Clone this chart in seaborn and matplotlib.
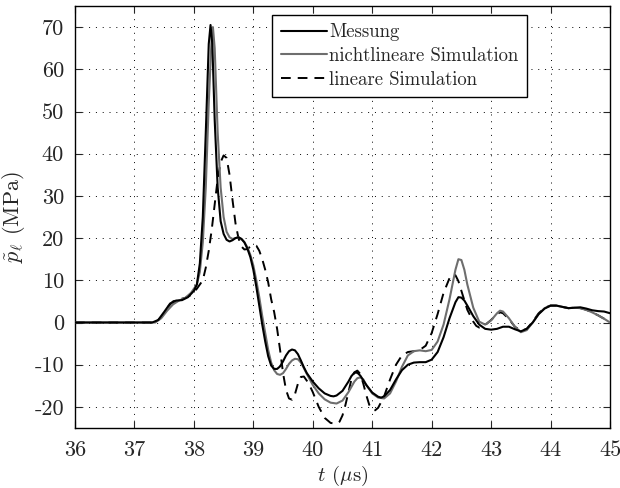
import matplotlib
matplotlib.use("Agg")
import matplotlib.pyplot as plt
import seaborn as sns
import pandas as pd

# Measured pressure pulse
t_mess = [36.0, 36.5, 37.0, 37.3, 37.4, 37.5, 37.6, 37.7, 37.8, 37.9, 38.0, 38.05, 38.1, 38.15,
          38.2, 38.25, 38.28, 38.31, 38.35, 38.4, 38.45, 38.5, 38.55, 38.6, 38.65, 38.7, 38.75,
          38.8, 38.85, 38.9, 38.95, 39.0, 39.05, 39.1, 39.15, 39.2, 39.25, 39.3, 39.35, 39.4,
          39.45, 39.5, 39.55, 39.6, 39.65, 39.7, 39.75, 39.8, 39.85, 39.9, 40.0, 40.1, 40.2,
          40.3, 40.35, 40.4, 40.5, 40.6, 40.65, 40.7, 40.75, 40.8, 40.9, 41.0, 41.1, 41.15,
          41.2, 41.3, 41.4, 41.5, 41.6, 41.7, 41.8, 41.9, 42.0, 42.1, 42.2, 42.3, 42.4, 42.45,
          42.5, 42.55, 42.6, 42.7, 42.8, 42.9, 43.0, 43.1, 43.2, 43.3, 43.4, 43.5, 43.6, 43.7,
          43.8, 43.9, 44.0, 44.1, 44.2, 44.3, 44.4, 44.5, 44.6, 44.7, 44.8, 44.9, 45.0]
p_mess = [0, 0, 0, 0, 0.6, 2.5, 4.5, 5.2, 5.3, 6.0, 7.5, 9, 14, 25,
          45, 66, 70.5, 66, 48, 32, 24, 21, 19.6, 19.2, 19.5, 20.0, 20.2,
          19.8, 19, 17.5, 15.5, 12.5, 8.5, 4, -0.5, -4.5, -8, -10.2, -11, -11.0,
          -10.4, -9.2, -7.8, -6.8, -6.4, -6.6, -7.5, -9, -10.6, -12, -14, -15.6, -16.8,
          -17.4, -17.5, -17.3, -16.2, -14, -12.7, -11.9, -11.9, -12.6, -14.8, -16.6, -17.6, -17.8,
          -17.5, -16, -13.5, -11.3, -10, -9.5, -9.4, -9.4, -8.8, -7, -3.5, 1, 4.8, 6,
          5.9, 5.2, 4, 1.5, -0.5, -1.5, -1.7, -1.5, -1.0, -1.0, -1.6, -2.1, -1.5, 0,
          2, 3.3, 4, 4.0, 3.7, 3.4, 3.5, 3.6, 3.3, 2.9, 2.7, 2.6, 2.2]

# Nonlinear simulation
t_nl = [36.0, 37.0, 37.35, 37.45, 37.55, 37.65, 37.75, 37.85, 37.95, 38.05, 38.1, 38.15, 38.2,
        38.25, 38.3, 38.32, 38.35, 38.4, 38.45, 38.5, 38.55, 38.6, 38.65, 38.7, 38.75, 38.8,
        38.85, 38.9, 38.95, 39.0, 39.05, 39.1, 39.15, 39.2, 39.25, 39.3, 39.35, 39.4, 39.45,
        39.5, 39.55, 39.6, 39.65, 39.7, 39.75, 39.8, 39.85, 39.9, 40.0, 40.1, 40.2, 40.3,
        40.4, 40.5, 40.6, 40.7, 40.75, 40.8, 40.85, 40.9, 41.0, 41.1, 41.2, 41.3, 41.4, 41.5,
        41.6, 41.7, 41.8, 41.9, 42.0, 42.1, 42.2, 42.3, 42.4, 42.45, 42.5, 42.55, 42.6, 42.7,
        42.8, 42.9, 43.0, 43.1, 43.15, 43.2, 43.3, 43.4, 43.5, 43.6, 43.7, 43.8, 43.9, 44.0,
        44.1, 44.2, 44.3, 44.4, 44.5, 44.6, 44.7, 44.8, 44.9, 45.0]
p_nl = [0, 0, 0, 1, 2.8, 4.3, 5.2, 5.8, 7, 9, 12, 19, 32,
        52, 68, 70, 65, 45, 32, 25, 21.5, 20.2, 19.8, 20, 20.2, 19.8,
        19, 17.8, 16, 13.5, 10, 6, 1.5, -2.5, -6.5, -9.5, -11.3, -12.2, -12.4,
        -12, -11, -9.8, -9, -8.6, -8.7, -9.5, -10.8, -12.2, -14.8, -16.8, -18.2, -19,
        -19.2, -18.5, -16.5, -14, -13.2, -13, -13.5, -14.8, -16.8, -17.8, -18, -16.8, -14, -10.5,
        -7.8, -6.8, -6.6, -6.8, -6.5, -4.5, -0.5, 5.5, 12.5, 15, 14.8, 12.5, 9, 3.5,
        0.2, -0.5, 0.5, 2.2, 2.8, 2.6, 1, -1, -2.3, -1.8, 0, 2, 3.4, 4.0,
        4.0, 3.7, 3.4, 3.5, 3.4, 3.0, 2.4, 1.7, 0.9, 0]

# Linear simulation
t_lin = [36.0, 37.0, 37.35, 37.45, 37.55, 37.65, 37.75, 37.85, 37.95, 38.05, 38.15, 38.2, 38.25,
         38.3, 38.35, 38.4, 38.45, 38.5, 38.55, 38.6, 38.65, 38.7, 38.75, 38.8, 38.85, 38.9,
         38.95, 39.0, 39.05, 39.1, 39.15, 39.2, 39.25, 39.3, 39.35, 39.4, 39.45, 39.5, 39.55,
         39.6, 39.65, 39.7, 39.75, 39.8, 39.85, 39.9, 39.95, 40.0, 40.1, 40.2, 40.3, 40.4,
         40.45, 40.5, 40.55, 40.6, 40.65, 40.7, 40.75, 40.8, 40.85, 40.9, 40.95, 41.0, 41.05,
         41.1, 41.2, 41.3, 41.4, 41.5, 41.6, 41.7, 41.8, 41.9, 42.0, 42.1, 42.2, 42.3, 42.35,
         42.4, 42.45, 42.5, 42.6, 42.7, 42.75, 42.8, 42.9, 43.0, 43.1, 43.15, 43.2, 43.3, 43.4,
         43.5, 43.6, 43.7, 43.8, 43.9, 44.0, 44.1, 44.2, 44.3, 44.4, 44.5, 44.6, 44.7, 44.8,
         44.9, 45.0]
p_lin = [0, 0, 0, 1.2, 3.5, 5.0, 5.5, 5.8, 6.5, 8, 10, 13, 17,
         22, 28, 34, 38, 39.6, 39, 35, 29, 23.5, 20, 18, 17.3, 17.4,
         18, 18.4, 18.2, 17, 15, 12.5, 9.5, 5.5, 2.5, -1.5, -6.5, -12, -16,
         -18, -18.3, -17, -14.5, -12.9, -12.8, -13.8, -15, -16.5, -20, -22.6, -23.8, -24,
         -23.5, -22, -19.5, -16.5, -13.5, -11.8, -11.4, -12.2, -14.5, -17.2, -19.5, -20.6, -20.8,
         -20.2, -17.5, -13.5, -10, -7.8, -7, -6.8, -6.5, -5.5, -2.5, 2, 7, 10.5, 11.4,
         11.2, 9.8, 7.5, 3, 0.2, -0.8, -1.2, -0.6, 0.6, 2, 2.4, 2.2, 0.8, -1.0,
         -2.0, -1.5, 0.2, 2.2, 3.5, 4.0, 4.0, 3.7, 3.4, 3.5, 3.4, 3.0, 2.4, 1.7,
         0.9, 0.2]

labels = ["Messung", "nichtlineare Simulation", "lineare Simulation"]
x_ticks = [36, 37, 38, 39, 40, 41, 42, 43, 44, 45]
y_ticks = [-20, -10, 0, 10, 20, 30, 40, 50, 60, 70]

sns.set_style("ticks")
plt.rcParams.update({
    "font.family": "serif",
    "font.serif": ["cmr10", "DejaVu Serif"],
    "mathtext.fontset": "cm",
    "axes.unicode_minus": False,
    "axes.formatter.use_mathtext": False,
})

W, H = 620, 488
left, right, top, bottom = 75, 610, 6, 428
fig = plt.figure(figsize=(W / 100, H / 100), dpi=100)
ax = fig.add_axes([left / W, 1 - bottom / H, (right - left) / W, (bottom - top) / H])

df_mess = pd.DataFrame({"t": t_mess, "p": p_mess})
df_nl = pd.DataFrame({"t": t_nl, "p": p_nl})
df_lin = pd.DataFrame({"t": t_lin, "p": p_lin})

sns.lineplot(data=df_mess, x="t", y="p", ax=ax, color="black", lw=1.5,
             estimator=None, sort=False, label=labels[0], zorder=4)
sns.lineplot(data=df_nl, x="t", y="p", ax=ax, color="#6e6e6e", lw=1.5,
             estimator=None, sort=False, label=labels[1], zorder=3)
sns.lineplot(data=df_lin, x="t", y="p", ax=ax, color="black", lw=1.4,
             estimator=None, sort=False, label=labels[2], zorder=2)
ax.lines[2].set_dashes([5, 3.6])

ax.set_xlim(36, 45)
ax.set_ylim(-25, 75)
ax.set_xticks(x_ticks)
ax.set_yticks(y_ticks)
ax.set_xticklabels([str(v) for v in x_ticks])
ax.set_yticklabels([str(v) for v in y_ticks])

ax.grid(True, linestyle=(0, (1, 6)), color="black", lw=0.7)
ax.tick_params(direction="in", top=True, right=True, length=5, width=0.8,
               labelsize=16)
ax.tick_params(axis="x", pad=9)
ax.tick_params(axis="y", pad=8)
for s in ax.spines.values():
    s.set_linewidth(1.0)
    s.set_color("black")

ax.set_xlabel(r"$t$ ($\mu$s)", fontsize=15, labelpad=3)
ax.set_ylabel(r"$\tilde{p}_\ell$ (MPa)", fontsize=16, labelpad=5)

leg = ax.legend(loc="upper right",
                bbox_to_anchor=((527 - left) / (right - left), (bottom - 15) / (bottom - top)),
                borderaxespad=0, fontsize=13.5, frameon=True, fancybox=False,
                framealpha=1, edgecolor="black", handlelength=2.45,
                handletextpad=0.15, borderpad=0.45, labelspacing=0.3)
leg.get_frame().set_linewidth(1.0)

fig.savefig("out.png", dpi=100)
